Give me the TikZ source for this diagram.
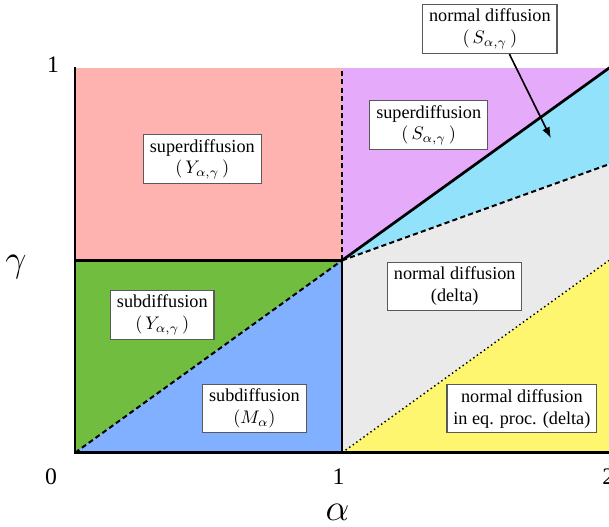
\documentclass[tikz,border=0pt]{standalone}
\usepackage{fontspec}
\setmainfont{Liberation Serif}
\usetikzlibrary{arrows.meta,calc}
\definecolor{Rose}{RGB}{255,179,176}
\definecolor{Grass}{RGB}{112,189,64}
\definecolor{Sky}{RGB}{128,176,255}
\definecolor{Lilac}{RGB}{230,170,250}
\definecolor{Aqua}{RGB}{145,226,250}
\definecolor{Mist}{RGB}{234,234,234}
\definecolor{Lemon}{RGB}{255,246,112}
\tikzset{
  lbox/.style={rectangle,draw=black!65,line width=0.6pt,fill=white,
               align=center,font=\normalsize,inner xsep=3.5pt,inner ysep=2.5pt},
  tick/.style={font=\fontsize{13}{15}\selectfont},
  axlab/.style={font=\fontsize{20}{24}\selectfont},
  border/.style={line width=1.5pt,line cap=rect},
  bdash/.style={line width=1.1pt,dash pattern=on 2.8pt off 1.8pt},
  bdot/.style={line width=0.8pt,dash pattern=on 0.8pt off 1.6pt},
  ptr/.style={-{Latex[length=6pt,width=4.5pt]},line width=0.9pt},
}

\begin{document}
\begin{tikzpicture}[x=146.6pt,y=211.2pt]
  \useasboundingbox (-0.2814,-0.1927) rectangle (2.0,1.1771);
  % corners of the regions
  \coordinate (O) at (0,0);
  \coordinate (A1) at (1,0);
  \coordinate (A2) at (2,0);
  \coordinate (G1) at (0,1);
  \coordinate (Gh) at (0,0.5);
  \coordinate (M) at (1,0.5);
  \coordinate (T1) at (1,1);
  \coordinate (T2) at (2,1);
  \coordinate (R1) at (2,0.75);
  \coordinate (R2) at (2,0.5);
  %
  \fill[Rose] (Gh) rectangle (T1);
  \fill[Grass] (O) -- (M) -- (Gh) -- cycle;
  \fill[Sky] (O) -- (A1) -- (M) -- cycle;
  \fill[Lilac] (M) -- (T1) -- (T2) -- cycle;
  \fill[Aqua] (M) -- (T2) -- (R1) -- cycle;
  \fill[Mist] (M) -- (R1) -- (R2) -- (A1) -- cycle;
  \fill[Lemon] (A1) -- (R2) -- (A2) -- cycle;
  %
  \draw[bdash] (O) -- (M);
  \draw[bdash] (M) -- (T1);
  \draw[bdash] (M) -- (R1);
  \draw[bdot] (A1) -- (R2);
  \draw[border] (G1) -- (O) -- (A2);
  \draw[border] (Gh) -- (M) -- (A1);
  \draw[border] (M) -- (T2);
  %
  \node[lbox] (pinkbox) at (0.4765,0.763) {superdiffusion\\$(\,Y_{\alpha,\gamma}\,)$};
  \node[lbox] (greenbox) at (0.3265,0.359) {subdiffusion\\$(\,Y_{\alpha,\gamma}\,)$};
  \node[lbox] (bluebox) at (0.6717,0.1146) {subdiffusion\\$(M_\alpha)$};
  \node[lbox] (lilacbox) at (1.3246,0.8516) {superdiffusion\\$(\,S_{\alpha,\gamma}\,)$};
  \node[lbox] (notebox) at (1.5535,1.1016) {normal diffusion\\$(\,S_{\alpha,\gamma}\,)$};
  \node[lbox] (mistbox) at (1.4221,0.4323) {normal diffusion\\(delta)};
  \node[lbox] (lemonbox) at (1.6735,0.1146) {normal diffusion\\in eq. proc. (delta)};
  %
  \coordinate (tip) at (1.7824,0.8177);
  \draw[ptr] (notebox.-52) -- (tip);
  %
  \node[tick] (t0) at (-0.09,-0.0625) {0};
  \node[tick] (t1) at (0.987,-0.0625) {1};
  \node[tick] (t2) at (1.997,-0.0625) {2};
  \node[tick] (g1) at (-0.0826,1.008) {1};
  \node[axlab] (alab) at (0.983,-0.156) {$\alpha$};
  \node[axlab] (glab) at (-0.2214,0.484) {$\gamma$};
\end{tikzpicture}
\end{document}
